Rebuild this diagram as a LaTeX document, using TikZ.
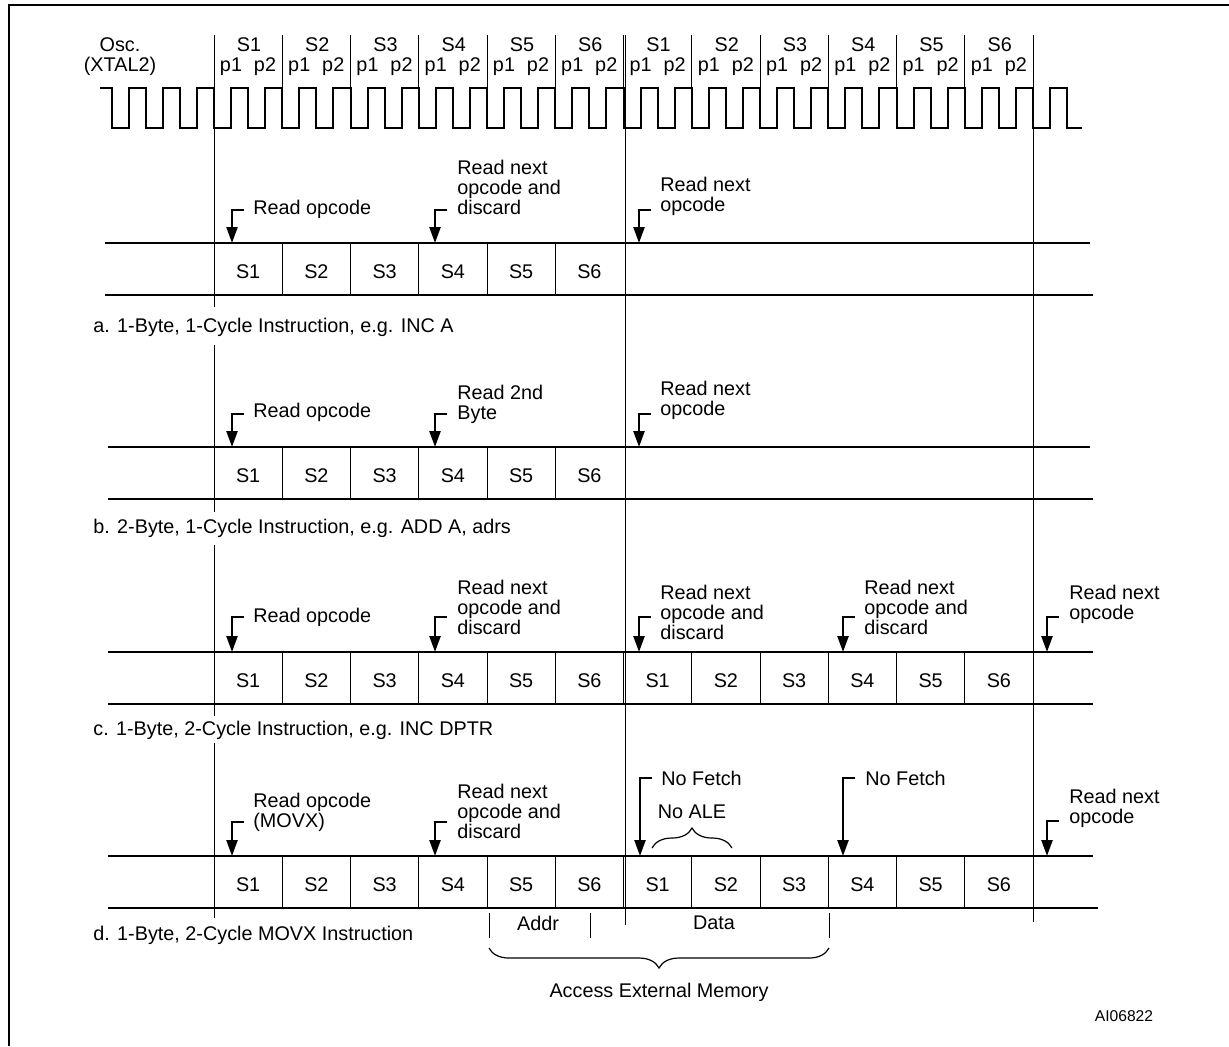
\documentclass[tikz,border=0pt]{standalone}
\usepackage{fontspec}
\setmainfont{Liberation Sans}
\usetikzlibrary{arrows.meta,decorations.pathreplacing,calc}
\tikzset{
  lbl/.style={
    inner sep = 0,
    anchor = base west,
    align = left
  },
  cyc/.style={
    inner sep = 0
  },
  fetch/.style={
    line width = 1.2pt,
    -{Triangle[length=8pt,width=5.5pt]}
  },
  clk/.style={
    line width = 1pt
  },
  bus/.style={
    line width = 1pt
  },
  sep/.style={
    line width = 0.5pt
  },
  bra/.style={
    line width = 0.6pt,
    decorate,
    decoration = {brace, amplitude=10pt}
  },
}

\begin{document}
\begin{tikzpicture}[x=0.5pt, y=-0.5pt, font=\fontsize{9.9pt}{10pt}\selectfont]
\useasboundingbox (0,0) rectangle (1229,1046);
\draw[line width=1pt] (9,1046) -- (9,5) -- (1229,5);

% clock and states
\node[cyc, align=center] (osc) at (120,57) {Osc.\\(XTAL2)};
\foreach \k in {0,...,11}{
  \pgfmathsetmacro\bx{214+68.25*\k}
  \pgfmathtruncatemacro\s{mod(\k,6)+1}
  \node[cyc] (S\k) at ({\bx+35},45) {S\s};
  \node[cyc] (pa\k) at ({\bx+17},67) {p1};
  \node[cyc] (pb\k) at ({\bx+51},67) {p2};
}
\foreach \k in {0,...,12}
  \draw[sep] ({214+68.25*\k},35) -- ++(0,53);
\draw[clk] (100,88) foreach \k in {0,...,27}{
    -- ({111.625+34.125*\k},88) -- ++(0,40) -- ++(17.0625,0) -- ++(0,-40)}
  -- (1067.125,88) -- ++(0,40) -- (1082,128);

% the four cycle rows
\foreach \r/\ty/\n/\xl/\xr/\xb in {a/243/6/105/1090/1093, b/447/6/108/1090/1093,
    c/652/12/108/1093/1093, d/856/12/108/1093/1098}{
  \coordinate (\r T) at (\xl,\ty);
  \coordinate (\r B) at (\xl,\ty+52);
  \draw[bus] (\r T) -- (\xr,\ty);
  \draw[bus] (\r B) -- (\xb,\ty+52);
  \foreach \k in {1,...,\n}{
    \pgfmathtruncatemacro\s{mod(\k-1,6)+1}
    \node[cyc] (\r\k) at ({214+68.25*(\k-0.5)},\ty+29) {S\s};
  }
  \pgfmathtruncatemacro\m{\n-1}
  \foreach \k in {1,...,\m}
    \draw[sep] ({214+68.25*\k},\ty) -- ++(0,52);
}
\draw[sep] (214,35) -- (214,307) (214,345) -- (214,512)
  (214,545) -- (214,716) (214,743) -- (214,918);
\draw[sep] (625,35) -- (625,925);
\draw[sep] (1033,35) -- (1033,922);

% a
\node[lbl] (a1t) at (253,214) {Read opcode};
\node[lbl] (a2t) at (457,214) {Read next\\opcode and\\discard};
\node[lbl] (a3t) at (660,211) {Read next\\opcode};
\node[lbl] (capa) at (93,332) {a. 1-Byte, 1-Cycle Instruction, e.g. INC A};
% b
\node[lbl] (b1t) at (253,417) {Read opcode};
\node[lbl] (b2t) at (457,419) {Read 2nd\\Byte};
\node[lbl] (b3t) at (660,415) {Read next\\opcode};
\node[lbl] (capb) at (93,533) {b. 2-Byte, 1-Cycle Instruction, e.g. ADD A, adrs};
% c
\node[lbl] (c1t) at (253,622) {Read opcode};
\node[lbl] (c2t) at (457,634) {Read next\\opcode and\\discard};
\node[lbl] (c3t) at (660,639) {Read next\\opcode and\\discard};
\node[lbl] (c4t) at (864,634) {Read next\\opcode and\\discard};
\node[lbl] (c5t) at (1069,619) {Read next\\opcode};
\node[lbl] (capc) at (93,735) {c. 1-Byte, 2-Cycle Instruction, e.g. INC DPTR};
% d
\node[lbl] (d1t) at (253,827) {Read opcode\\(MOVX)};
\node[lbl] (d2t) at (457,838) {Read next\\opcode and\\discard};
\node[lbl] (d3t) at (661,785) {No Fetch};
\node[cyc] (ale) at (692,812) {No ALE};
\node[lbl] (d4t) at (865,785) {No Fetch};
\node[lbl] (d5t) at (1069,823) {Read next\\opcode};
\node[lbl] (capd) at (93,940) {d. 1-Byte, 2-Cycle MOVX Instruction};

\foreach \ax/\sy/\r in {232/210/a, 435/210/a, 639/210/a,
    232/414/b, 435/414/b, 639/414/b,
    232/617/c, 435/617/c, 639/617/c, 843/617/c, 1047/617/c,
    232/822/d, 435/822/d, 640/778/d, 843/778/d, 1047/821/d}
  \draw[fetch] ({\ax+12},\sy) -| (\ax,0 |- \r T);

\draw[bra] (652,848) -- (732,848);

% external memory access
\draw[sep] (489,913) -- (489,938) (590,913) -- (590,938) (829,913) -- (829,938);
\node[cyc] (addr) at (538,923) {Addr};
\node[cyc] (data) at (714,923) {Data};
\draw[bra] (829,948) -- (489,948);
\node[cyc] (acc) at (659,992) {Access External Memory};
\node[cyc, font=\fontsize{7.8pt}{8pt}\selectfont] (ai) at (1124,1016) {AI06822};
\end{tikzpicture}
\end{document}
